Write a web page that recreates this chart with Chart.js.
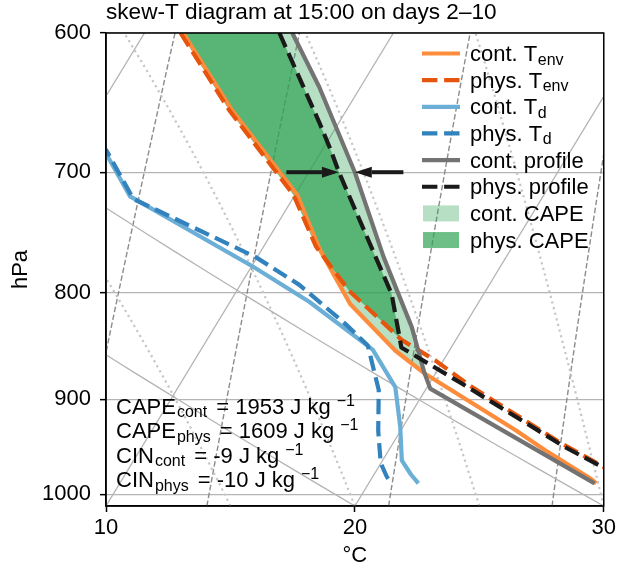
<!DOCTYPE html>
<html>
<head>
<meta charset="utf-8">
<title>skew-T 15:00</title>
<script src="https://cdn.jsdelivr.net/npm/chart.js@4.4.1/dist/chart.umd.min.js"></script>
<style>
  html, body { margin: 0; padding: 0; background: #fff; }
  canvas { display: block; }
</style>
</head>
<body>
<canvas id="skewT" width="619" height="569"></canvas>
<script>
// ---- diagram limits ----
const P_BOTTOM = 1013;
const P_TOP = 600;
const T_LEFT = 10;
const T_RIGHT = 30;
const SKEW_DEG = 30;
const pressureTicks = [600, 700, 800, 900, 1000];

// ---- soundings at 15:00, days 2-10 (hPa / °C) ----
const contEnvP = [600, 653, 718, 762, 810, 853, 875, 931, 952, 983, 988];
const contEnvT = [1.55, 5.36, 10.1, 12.3, 14.88, 17.84, 19.59, 24.57, 26.26, 28.82, 29.15];

const physEnvP = [600, 653, 718, 760, 798, 843, 862, 888, 945, 970, 988];
const physEnvT = [1.45, 5.25, 9.95, 12.1, 14.5, 17.84, 19.66, 21.8, 26.76, 29.04, 30.7];

const contTdP = [600, 686, 719, 777, 808, 852, 888, 928, 963, 978, 988];
const contTdT = [-4.1, 1.42, 3.41, 10.05, 13.18, 16.9, 18.72, 19.89, 20.77, 21.47, 22.0];

const physTdP = [600, 684, 721, 769, 793, 828, 848, 891, 932, 966, 981, 988];
const physTdT = [-4.7, 1.38, 3.6, 9.94, 12.37, 15.17, 16.6, 18.13, 19.1, 19.99, 20.58, 20.94];

// lifted parcels
const contProfP = [600, 637, 700, 769, 831, 873, 889.5, 988];
const contProfT = [5.94, 8.34, 11.85, 15.08, 17.92, 19.5, 20.16, 29.08];

const physProfP = [600, 662, 683, 700, 801, 850, 885, 949, 972, 988];
const physProfT = [5.42, 9.18, 10.34, 11.21, 16.3, 18.0, 21.35, 27.0, 29.15, 30.65];

// level of free convection (hPa), bottom of each CAPE area
const contLfc = 874;
const physLfc = 841;

// convective indices (J/kg)
const capeCont = 1953;
const capePhys = 1609;
const cinCont = -9;
const cinPhys = -10;

// arrows pointing at the parcels at 700 hPa, tails in °C
const arrowP = 700;
const arrowTailT = [9.1, 13.8];

// ---- thermodynamic guide lines ----
const isotherms = [0, 10, 20, 30];
const dryStartT = [10, 20, 30];
const moistStartT = [0, 5, 10, 15, 20, 25, 30, 35, 40, 45, 50, 55, 60, 65, 70, 75, 80];
const mixingRatios = [0.0004, 0.001, 0.002, 0.004, 0.007, 0.01, 0.016, 0.024, 0.032];

const RD = 287.04749, CP_D = 1004.6662, LV = 2.50084e6, EPS = 0.6219569;
const KAPPA = RD / CP_D;

const FONT = "'Liberation Sans', Arial, Helvetica, sans-serif";
const GRID = '#b4b4b4';
const DASH = [15.4, 6.7];
const CAPE_CONT = 'rgba(49, 163, 84, 0.35)';
const CAPE_PHYS = 'rgba(49, 163, 84, 0.7)';

// skewed x: isotherms lean 30° in axes space
const skewSpan = Math.tan(SKEW_DEG * Math.PI / 180) * (T_RIGHT - T_LEFT);
const logSpan = Math.log(P_BOTTOM / P_TOP);
function skewX(t, p) {
    return t + skewSpan * Math.log(P_BOTTOM / p) / logSpan;
}
function toPoints(ps, ts) {
    return ps.map((p, i) => ({ x: skewX(ts[i], p), y: p }));
}
function levels(n) {
    return Array.from({ length: n + 1 }, (_, i) => P_BOTTOM + (P_TOP - P_BOTTOM) * i / n);
}

function dryAdiabat(t0) {
    return levels(30).map(p => ({
        x: skewX((t0 + 273.15) * Math.pow(p / P_BOTTOM, KAPPA) - 273.15, p), y: p
    }));
}

function moistSlope(p, tK) {
    const tC = tK - 273.15;
    const e = 6.112 * Math.exp(17.67 * tC / (tC + 243.5));
    const rs = EPS * e / (p - e);
    return (RD * tK + LV * rs) / (CP_D + LV * LV * rs * EPS / (RD * tK * tK)) / p;
}
function moistAdiabat(t0) {
    const ps = levels(40);
    let t = t0 + 273.15;
    return ps.map((p, i) => {
        if (i > 0) {
            const p0 = ps[i - 1], h = p - p0;
            const k1 = moistSlope(p0, t);
            const k2 = moistSlope(p0 + h / 2, t + h / 2 * k1);
            const k3 = moistSlope(p0 + h / 2, t + h / 2 * k2);
            const k4 = moistSlope(p, t + h * k3);
            t += h / 6 * (k1 + 2 * k2 + 2 * k3 + k4);
        }
        return { x: skewX(t - 273.15, p), y: p };
    });
}

function mixingLine(w) {
    return levels(20).map(p => {
        const v = Math.log(w * p / (EPS + w) / 6.112);
        return { x: skewX(243.5 * v / (17.67 - v), p), y: p };
    });
}

// temperature on a sounding at pressure p (straight in log p)
function tempAt(ps, ts, p) {
    for (let i = 1; i < ps.length; i++) {
        if (p <= ps[i]) {
            const f = Math.log(p / ps[i - 1]) / Math.log(ps[i] / ps[i - 1]);
            return ts[i - 1] + f * (ts[i] - ts[i - 1]);
        }
    }
    return ts[ts.length - 1];
}

// closed outline: environment upward from the LFC, parcel back down
function capeOutline(envP, envT, profP, profT, lfc) {
    const pts = [{ x: skewX(tempAt(envP, envT, lfc), lfc), y: lfc }];
    for (let i = envP.length - 1; i >= 0; i--) {
        if (envP[i] < lfc) pts.push({ x: skewX(envT[i], envP[i]), y: envP[i] });
    }
    profP.forEach((p, i) => {
        if (p < lfc) pts.push({ x: skewX(profT[i], p), y: p });
    });
    pts.push({ x: skewX(tempAt(profP, profT, lfc), lfc), y: lfc });
    return pts;
}

const series = [
    { label: 'cont. T', sub: 'env', p: contEnvP, t: contEnvT, color: '#fd8d3c', dash: [] },
    { label: 'phys. T', sub: 'env', p: physEnvP, t: physEnvT, color: '#e6550d', dash: DASH },
    { label: 'cont. T', sub: 'd', p: contTdP, t: contTdT, color: '#6baed6', dash: [] },
    { label: 'phys. T', sub: 'd', p: physTdP, t: physTdT, color: '#3182bd', dash: DASH },
    { label: 'cont. profile', p: contProfP, t: contProfT, color: '#737373', dash: [] },
    { label: 'phys. profile', p: physProfP, t: physProfT, color: '#1a1a1a', dash: DASH },
];
const capeAreas = [
    { label: 'cont. CAPE', color: CAPE_CONT, outline: capeOutline(contEnvP, contEnvT, contProfP, contProfT, contLfc) },
    { label: 'phys. CAPE', color: CAPE_PHYS, outline: capeOutline(physEnvP, physEnvT, physProfP, physProfT, physLfc) },
];

const lineSets = series.map((s, i) => ({
    label: s.label + (s.sub || ''),
    data: toPoints(s.p, s.t),
    showLine: true,
    borderColor: s.color,
    borderWidth: 4.2,
    borderDash: s.dash,
    borderJoinStyle: 'round',
    pointRadius: 0,
    order: series.length - i
}));

function guide(data, color, width, dash) {
    return { data, showLine: true, borderColor: color, borderWidth: width, borderDash: dash, pointRadius: 0, order: 20 };
}
const guideSets = [
    ...isotherms.map(t => guide([{ x: skewX(t, P_BOTTOM), y: P_BOTTOM }, { x: skewX(t, P_TOP), y: P_TOP }], GRID, 1.3, [])),
    ...dryStartT.map(t => guide(dryAdiabat(t), GRID, 1.3, [])),
    ...moistStartT.map(t => guide(moistAdiabat(t), '#c6c6c6', 2.2, [2.2, 3.6])),
    ...mixingRatios.map(w => guide(mixingLine(w), '#8c8c8c', 1.4, [5.5, 2.5]))
];

// text with sub/superscripts, parts drawn left to right
function richText(ctx, x, y, parts) {
    parts.forEach(part => {
        const small = part.sub || part.sup;
        ctx.font = `${small ? 16 : 22}px ${FONT}`;
        x += part.gap || 0;
        ctx.fillText(part.text, x, y + (part.sub ? 3.5 : part.sup ? -8 : 0));
        x += ctx.measureText(part.text).width;
    });
}

function fillArea(chart, pts, color) {
    const { ctx, scales: { x, y } } = chart;
    ctx.beginPath();
    pts.forEach((pt, i) => {
        const px = x.getPixelForValue(pt.x), py = y.getPixelForValue(pt.y);
        if (i) ctx.lineTo(px, py); else ctx.moveTo(px, py);
    });
    ctx.closePath();
    ctx.fillStyle = color;
    ctx.fill();
}

function drawArrow(ctx, x0, x1, y) {
    const dir = Math.sign(x1 - x0), head = 17, half = 5.5;
    const neck = x1 - dir * head;
    ctx.fillStyle = '#1a1a1a';
    ctx.fillRect(Math.min(x0, neck), y - 2, Math.abs(neck - x0), 4);
    ctx.beginPath();
    ctx.moveTo(x1, y);
    ctx.lineTo(neck, y - half);
    ctx.lineTo(neck, y + half);
    ctx.closePath();
    ctx.fill();
}

const decorations = {
    id: 'decorations',
    // CAPE areas go under the sounding lines but over the guide lines
    beforeDatasetDraw(chart, args) {
        if (args.index !== 0) return;
        const { ctx, chartArea: a } = chart;
        ctx.save();
        ctx.beginPath();
        ctx.rect(a.left, a.top, a.width, a.height);
        ctx.clip();
        capeAreas.forEach(area => fillArea(chart, area.outline, area.color));
        ctx.restore();
    },
    afterDatasetsDraw(chart) {
        const { ctx, chartArea: a, scales: { x, y } } = chart;
        ctx.save();
        const ay = y.getPixelForValue(arrowP);
        drawArrow(ctx, x.getPixelForValue(skewX(arrowTailT[0], arrowP)),
            x.getPixelForValue(skewX(tempAt(physProfP, physProfT, arrowP), arrowP)), ay);
        drawArrow(ctx, x.getPixelForValue(skewX(arrowTailT[1], arrowP)),
            x.getPixelForValue(skewX(tempAt(contProfP, contProfT, arrowP), arrowP)), ay);
        ctx.strokeStyle = '#000';
        ctx.lineWidth = 1.5;
        ctx.strokeRect(a.left, a.top, a.width, a.height);
        ctx.restore();
    },
    afterDraw(chart) {
        const { ctx, chartArea: a } = chart;
        ctx.save();
        ctx.fillStyle = '#000';
        ctx.textBaseline = 'alphabetic';
        ctx.font = `22.6px ${FONT}`;
        ctx.fillText('skew-T diagram at 15:00 on days 2\u201310', a.left, 18.5);

        // legend, upper right inside the axes
        const hx0 = a.left + 316, hx1 = a.left + 354, tx = a.left + 364;
        const rows = [...series, ...capeAreas];
        rows.forEach((row, i) => {
            const ry = 53.5 + i * 26.65;
            if (row.outline) {
                ctx.fillStyle = row.color;
                ctx.fillRect(hx0 + 1, ry - 8, hx1 - hx0 - 2, 16);
            } else {
                ctx.beginPath();
                ctx.setLineDash(row.dash);
                ctx.lineWidth = 4.2;
                ctx.strokeStyle = row.color;
                ctx.moveTo(hx0, ry);
                ctx.lineTo(hx1, ry);
                ctx.stroke();
                ctx.setLineDash([]);
            }
            ctx.fillStyle = '#000';
            const parts = [{ text: row.label }];
            if (row.sub) parts.push({ text: row.sub, sub: true, gap: 0.5 });
            richText(ctx, tx, ry + 7.5, parts);
        });

        // CAPE / CIN summary, lower left
        const lines = [
            ['CAPE', 'cont', capeCont], ['CAPE', 'phys', capePhys],
            ['CIN', 'cont', cinCont], ['CIN', 'phys', cinPhys]
        ];
        lines.forEach(([name, run, value], i) => {
            richText(ctx, a.left + 10, 413.5 + i * 24.6, [
                { text: name }, { text: run, sub: true, gap: 1 },
                { text: ` = ${value} J kg`, gap: 3 }, { text: '\u22121', sup: true, gap: 6 }
            ]);
        });
        ctx.restore();
    }
};

Chart.defaults.font.family = FONT;
Chart.defaults.font.size = 22;
Chart.defaults.color = '#000';

new Chart(document.getElementById('skewT'), {
    type: 'scatter',
    data: { datasets: [...lineSets, ...guideSets] },
    options: {
        responsive: false,
        animation: false,
        events: [],
        layout: { padding: { left: 0, right: 13, top: 33, bottom: 0 } },
        plugins: { legend: { display: false }, tooltip: { enabled: false } },
        scales: {
            x: {
                type: 'linear',
                min: T_LEFT,
                max: T_RIGHT,
                ticks: { stepSize: 10, padding: 3 },
                grid: { drawOnChartArea: false, tickLength: 6, tickWidth: 1.5, tickColor: '#000' },
                border: { color: '#000', width: 1.5 },
                title: { display: true, text: '\u00b0C', padding: 0 },
                afterFit(axis) { axis.height = 63; }
            },
            y: {
                type: 'logarithmic',
                reverse: true,
                min: P_TOP,
                max: P_BOTTOM,
                bounds: 'data',
                afterBuildTicks(axis) { axis.ticks = pressureTicks.map(value => ({ value })); },
                ticks: { padding: 9, callback: v => String(v) },
                grid: { color: GRID, lineWidth: 1.3, tickLength: 6, tickWidth: 1.5, tickColor: '#000' },
                border: { color: '#000', width: 1.5 },
                title: { display: true, text: 'hPa', padding: { top: 8, bottom: 0 } },
                afterFit(axis) { axis.width = 106; }
            }
        }
    },
    plugins: [decorations]
});
</script>
</body>
</html>
